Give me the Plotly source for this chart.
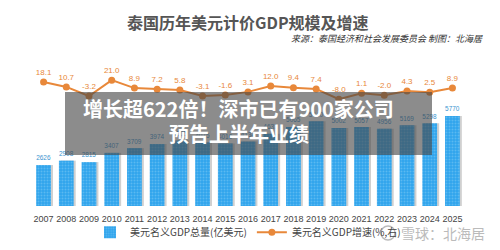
import plotly.graph_objects as go

years = [str(y) for y in range(2007, 2026)]
gdp = [2626, 2908, 2815, 3407, 3709, 3974, 4205, 4075, 4010, 4134, 4631, 5065, 5440, 5002, 5057, 4956, 5169, 5298, 5770]
growth = [18.1, 10.7, -3.2, 21.0, 8.9, 7.2, 5.8, -3.1, -1.6, 3.1, 12.0, 9.4, 7.4, -8.0, 1.1, -2.0, 4.3, 2.5, 8.9]

title = "泰国历年美元计价GDP规模及增速"
source = "来源：泰国经济和社会发展委员会 制图：北海居"
bar_name = "美元名义GDP总量(亿美元)"
line_name = "美元名义GDP增速(%,右)"
headline1 = "增长超622倍！深市已有900家公司"
headline2 = "预告上半年业绩"
watermark = "雪球：北海居"

W, H = 500, 250
CJK = "Noto Sans CJK SC"
NUM = "Liberation Sans Narrow, Liberation Sans, Arial"

fig = go.Figure()
# soft shadow behind bars
fig.add_trace(go.Bar(
    x=years, y=gdp, showlegend=False, hoverinfo="skip",
    marker=dict(color="rgba(120,120,120,0.35)", line=dict(width=0)),
    width=0.65, offset=-0.325 + 0.09,
))
fig.add_trace(go.Bar(
    x=years, y=gdp, name=bar_name,
    marker=dict(color="#2fa3ec", line=dict(width=0),
                pattern=dict(shape=".", fgcolor="#86cff6", size=3, solidity=0.35)),
    width=0.65, offset=-0.325,
    text=[str(v) for v in gdp], textposition="outside",
    textfont=dict(color="#3a94d0", size=8, family=NUM),
    cliponaxis=False,
))
fig.add_trace(go.Scatter(
    x=years, y=growth, name=line_name, yaxis="y2", mode="lines+markers+text",
    line=dict(color="#e8883a", width=2),
    marker=dict(color="#e8883a", size=7),
    text=[f"{v:.1f}" for v in growth], textposition="top center",
    textfont=dict(color="#e8883a", size=8, family=NUM),
    cliponaxis=False,
))

px_x0, px_x1 = 16, 480
px_y0, px_y1 = 50, 206

fig.update_layout(
    width=W, height=H,
    margin=dict(l=px_x0, r=W - px_x1, t=px_y0, b=H - px_y1, autoexpand=False),
    paper_bgcolor="white", plot_bgcolor="white",
    showlegend=True,
    barmode="overlay",
    legend=dict(orientation="h", x=0.5, xanchor="center", y=-0.075, yanchor="top",
                font=dict(size=10, color="#444", family=CJK), itemwidth=30,
                bgcolor="rgba(0,0,0,0)"),
    xaxis=dict(showgrid=False, showline=False, ticks="", tickangle=0, automargin=False,
               ticklabelstandoff=6,
               tickfont=dict(size=9, color="#444", family=NUM)),
    yaxis=dict(range=[0, 10000], visible=False, showgrid=False, automargin=False),
    yaxis2=dict(range=[-171, 67], overlaying="y", side="right", visible=False, showgrid=False,
                automargin=False),
    font=dict(family=CJK),
)

# title and source (pixel coords, converted below)
fig.add_annotation(text=f"<b>{title}</b>", x=0.5, y=22, showarrow=False,
                   font=dict(size=16, color="#555", family=CJK))
fig.add_annotation(text=f"<i>{source}</i>", x=485, y=38, showarrow=False, xanchor="right",
                   font=dict(size=9, color="#333", family=CJK))

# overlay box
fig.add_shape(type="rect", x0=65, x1=432, y0=92, y1=155,
              fillcolor="rgba(70,70,70,0.62)", line=dict(width=0), layer="above")
fig.add_annotation(text=f"<b>{headline1}</b>", x=238, y=108, showarrow=False,
                   font=dict(size=20, color="white", family=CJK))
fig.add_annotation(text=f"<b>{headline2}</b>", x=239, y=133, showarrow=False,
                   font=dict(size=20, color="white", family=CJK))
# watermark with round icon
fig.add_shape(type="circle", x0=381, x1=395, y0=226, y1=240,
              line=dict(color="#bbb", width=1.5), fillcolor="rgba(0,0,0,0)")
fig.add_annotation(text=watermark, x=487, y=233, showarrow=False, xanchor="right",
                   font=dict(size=14, color="#bbb", family=CJK))

# convert pixel-based annotation/shape coords to paper coords
pw = px_x1 - px_x0
ph = px_y1 - px_y0
for a in fig.layout.annotations:
    a.xref = "paper"; a.yref = "paper"; a.yanchor = "middle"
    if a.x != 0.5:
        a.x = (a.x - px_x0) / pw
    a.y = (px_y1 - a.y) / ph
for s in fig.layout.shapes:
    s.xref = "paper"; s.yref = "paper"
    s.x0 = (s.x0 - px_x0) / pw; s.x1 = (s.x1 - px_x0) / pw
    y0, y1 = s.y0, s.y1
    s.y0 = (px_y1 - y1) / ph; s.y1 = (px_y1 - y0) / ph

fig.write_html("out.html")
